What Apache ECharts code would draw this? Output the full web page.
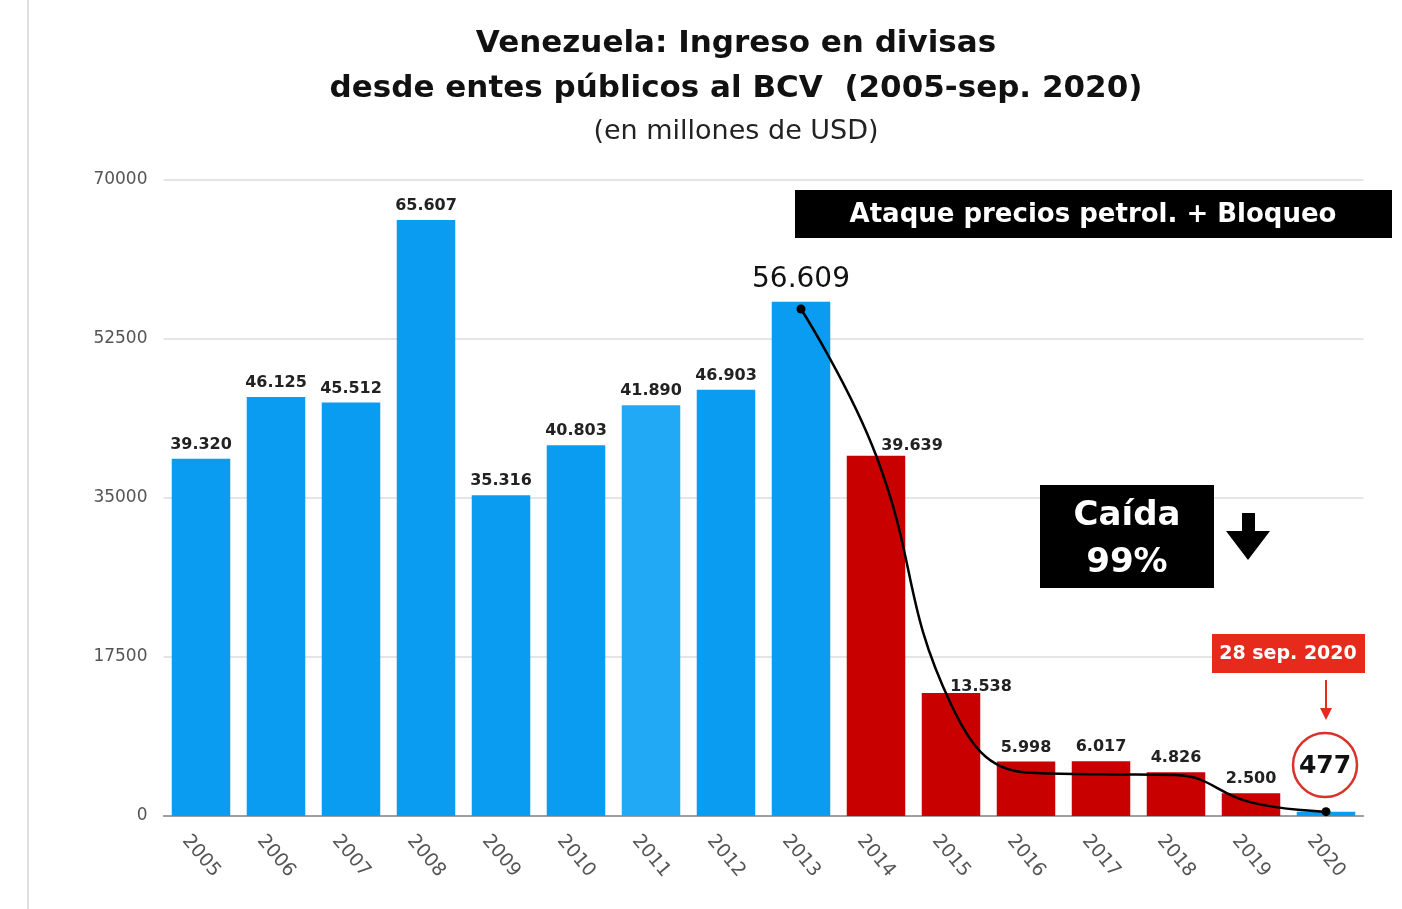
<!DOCTYPE html>
<html><head><meta charset="utf-8">
<script src="https://cdn.jsdelivr.net/npm/echarts@6/dist/echarts.min.js"></script>
<style>html,body{margin:0;padding:0;background:#fff}#c{width:1402px;height:909px}</style>
</head><body><div id="c"></div>
<script>
const years = ['2005','2006','2007','2008','2009','2010','2011','2012','2013','2014','2015','2016','2017','2018','2019','2020'];
// drawn bar heights
const values = [39320,46125,45512,65607,35316,40803,45200,46903,56609,39639,13538,5998,6017,4826,2500,477];
// printed labels
const labelTexts = ['39.320','46.125','45.512','65.607','35.316','40.803','41.890','46.903','56.609','39.639','13.538','5.998','6.017','4.826','2.500',''];
const trendLine = [null,null,null,null,null,null,null,null,55800,39700,12300,4800,4600,4500,1500,477];
const yTicks = [0,17500,35000,52500,70000];

const BLUE='#0a9cf0', BLUE2='#22a9f6', RED='#c80000';
const font='"DejaVu Sans", "Liberation Sans", Arial, sans-serif';

const barData = values.map((v,i)=>{
  const item={value:v,itemStyle:{color: i>=9 && i<15 ? RED : (i===6?BLUE2:BLUE)}};
  if(i===8) item.label={fontSize:28,fontWeight:'normal',color:'#111',distance:8};
  if(i===9) item.label={offset:[36,4]};
  if(i===10) item.label={offset:[30,8]};
  return item;
});
const lineData = trendLine.map((v,i)=>{
  if(v===null) return null;
  const ends = (i===8 || i===15);
  return {value:v,symbol: ends?'circle':'none',symbolSize:9};
});

const chart = echarts.init(document.getElementById('c'));
chart.setOption({
  animation:false,
  backgroundColor:'#fff',
  textStyle:{fontFamily:font},
  title:[
    {text:'Venezuela: Ingreso en divisas\ndesde entes públicos al BCV  (2005-sep. 2020)',left:731,top:16,textAlign:'center',
     textStyle:{fontFamily:font,fontSize:31,fontWeight:'bold',color:'#111',lineHeight:45}},
    {text:'(en millones de USD)',left:731,top:113,textAlign:'center',
     textStyle:{fontFamily:font,fontSize:27,fontWeight:'normal',color:'#222'}}
  ],
  grid:{left:163.5,right:38.5,top:180,bottom:93,containLabel:false},
  xAxis:{type:'category',data:years,
    axisLine:{show:true,lineStyle:{color:'#888',width:1.5}},axisTick:{show:false},
    axisLabel:{rotate:-50,align:'center',verticalAlign:'middle',fontSize:19,color:'#555',margin:40,fontFamily:font,padding:[0,0,0,0]}},
  yAxis:{type:'value',min:yTicks[0],max:yTicks[yTicks.length-1],interval:17500,
    axisLine:{show:false},axisTick:{show:false},
    splitLine:{lineStyle:{color:'#dcdcdc',width:1.5}},
    axisLabel:{fontSize:17,color:'#555',margin:16,fontFamily:font,formatter:v=>String(v)}},
  series:[
    {type:'bar',data:barData,barCategoryGap:'22%',
     label:{show:true,position:'top',distance:6,fontSize:16,fontWeight:'bold',color:'#222',fontFamily:font,
       formatter:p=>labelTexts[p.dataIndex]}},
    {type:'line',data:lineData,smooth:0.45,connectNulls:false,z:5,
     lineStyle:{color:'#000',width:2.5},itemStyle:{color:'#000'}}
  ],
  graphic:[
    {type:'line',shape:{x1:28,y1:0,x2:28,y2:909},style:{stroke:'#e0e0e0',lineWidth:2}},
    {type:'rect',shape:{x:795,y:190,width:597,height:48},style:{fill:'#000'},z:10},
    {type:'text',x:1093,y:215,style:{text:'Ataque precios petrol. + Bloqueo',fill:'#fff',font:'bold 26px '+font,textAlign:'center',textVerticalAlign:'middle'},z:11},
    {type:'rect',shape:{x:1040,y:485,width:174,height:103},style:{fill:'#000'},z:10},
    {type:'text',x:1127,y:516,style:{text:'Caída',fill:'#fff',font:'bold 34px '+font,textAlign:'center',textVerticalAlign:'middle'},z:11},
    {type:'text',x:1127,y:563,style:{text:'99%',fill:'#fff',font:'bold 34px '+font,textAlign:'center',textVerticalAlign:'middle'},z:11},
    {type:'polygon',shape:{points:[[1242,513],[1255,513],[1255,531],[1270,531],[1248,560],[1226,531],[1242,531]]},style:{fill:'#000'},z:10},
    {type:'rect',shape:{x:1212,y:634,width:153,height:39},style:{fill:'#e62a1c'},z:10},
    {type:'text',x:1288,y:654,style:{text:'28 sep. 2020',fill:'#fff',font:'bold 19px '+font,textAlign:'center',textVerticalAlign:'middle'},z:11},
    {type:'line',shape:{x1:1326,y1:680,x2:1326,y2:712},style:{stroke:'#e62a1c',lineWidth:2},z:10},
    {type:'polygon',shape:{points:[[1320,708],[1332,708],[1326,720]]},style:{fill:'#e62a1c'},z:10},
    {type:'circle',shape:{cx:1325,cy:765,r:32},style:{fill:'#fff',stroke:'#d8322a',lineWidth:2.5},z:10},
    {type:'text',x:1325,y:766,style:{text:'477',fill:'#111',font:'bold 25px '+font,textAlign:'center',textVerticalAlign:'middle'},z:11}
  ]
});
</script></body></html>
